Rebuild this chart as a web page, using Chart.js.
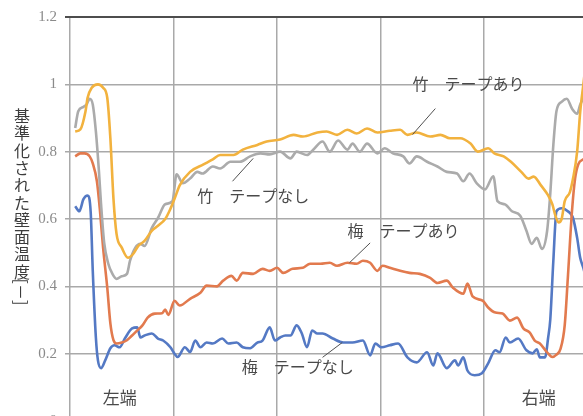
<!DOCTYPE html>
<html>
<head>
<meta charset="utf-8">
<script src="https://cdn.jsdelivr.net/npm/chart.js@4/dist/chart.umd.min.js"></script>
<style>
  html, body { margin: 0; padding: 0; background: #ffffff; overflow: hidden; }
  #wrap { position: absolute; left: 0; top: 0; width: 600px; height: 440px; }
</style>
</head>
<body>
<div id="wrap"><canvas id="c" width="600" height="440"></canvas></div>
<script>
// Position along the wall (0 = left end, 500 = right end) and normalised wall temperature.
const xTicks = [0, 100, 200, 300, 400, 500];
const yTicks = [0, 0.2, 0.4, 0.6, 0.8, 1.0, 1.2];

// 竹 テープあり
const takeAriX = [5,10,15,17,21,27,32,36,39,42,45,50,56,61,66,72,79,85,92,97,101,106,116,129,138,145,158,167,181,190,203,216,225,239,248,258,268,277,287,297,309,319,326,335,348,358,367,377,387,394,404,410,419,426,436,443,448,455,462,466,469,472,475,478,483,486,490,493,496,499];
const takeAriY = [0.86,0.866,0.92,0.96,0.99,1.0,0.99,0.96,0.84,0.66,0.555,0.515,0.485,0.496,0.52,0.535,0.565,0.58,0.60,0.63,0.66,0.70,0.74,0.762,0.777,0.79,0.79,0.806,0.82,0.83,0.836,0.85,0.845,0.857,0.86,0.85,0.865,0.854,0.869,0.857,0.862,0.865,0.85,0.857,0.845,0.85,0.84,0.84,0.824,0.80,0.81,0.795,0.786,0.77,0.74,0.72,0.726,0.70,0.67,0.644,0.61,0.59,0.60,0.653,0.68,0.72,0.80,0.92,1.0,1.08];

// 竹 テープなし
const takeNashiX = [5,8,13,16,19,22,25,28,30,33,37,41,45,50,55,58,63,68,72,79,85,92,99,103,109,116,123,128,138,145,155,164,174,184,193,203,213,219,229,235,244,251,259,268,273,280,287,297,304,312,322,328,335,345,355,364,374,380,386,393,401,409,413,420,427,435,441,446,451,456,461,464,467,470,475,480,485,490,493,498];
const takeNashiY = [0.87,0.92,0.933,0.94,0.957,0.94,0.86,0.74,0.644,0.53,0.467,0.437,0.422,0.43,0.437,0.476,0.514,0.526,0.52,0.573,0.603,0.644,0.653,0.733,0.706,0.72,0.74,0.735,0.756,0.75,0.77,0.77,0.786,0.795,0.792,0.80,0.78,0.80,0.79,0.806,0.83,0.80,0.833,0.806,0.824,0.80,0.824,0.795,0.81,0.795,0.786,0.765,0.786,0.77,0.756,0.74,0.735,0.712,0.735,0.706,0.688,0.727,0.653,0.644,0.623,0.61,0.565,0.526,0.544,0.511,0.565,0.674,0.82,0.92,0.948,0.957,0.928,0.913,0.94,0.97];

// 梅 テープあり
const umeAriX = [5,10,14,19,22,26,29,32,36,39,42,45,50,55,60,65,70,75,82,89,92,95,101,106,116,126,132,142,148,156,161,167,177,186,193,200,206,215,225,232,242,251,258,268,277,283,290,297,302,309,319,328,338,348,355,364,370,380,384,389,399,404,411,418,425,432,438,444,449,454,461,466,470,474,478,481,485,488,491,496,498];
const umeAriY = [0.786,0.795,0.795,0.786,0.765,0.712,0.623,0.514,0.396,0.29,0.24,0.23,0.233,0.24,0.254,0.269,0.284,0.307,0.319,0.32,0.331,0.315,0.357,0.343,0.363,0.381,0.402,0.40,0.417,0.431,0.417,0.44,0.437,0.452,0.446,0.455,0.44,0.452,0.455,0.467,0.467,0.47,0.461,0.47,0.467,0.476,0.47,0.446,0.461,0.455,0.446,0.44,0.437,0.425,0.41,0.417,0.396,0.378,0.408,0.37,0.357,0.337,0.322,0.319,0.298,0.307,0.275,0.263,0.239,0.23,0.204,0.19,0.197,0.215,0.285,0.425,0.623,0.72,0.762,0.777,0.78];

// 梅 テープなし
const umeNashiX = [5,9,13,17,20,22,25,27,30,34,39,43,48,53,60,65,68,72,79,85,90,97,101,104,111,116,121,126,132,138,147,153,161,167,174,181,186,193,198,203,208,213,219,224,229,234,239,244,254,264,273,283,290,295,301,309,317,326,335,345,351,355,364,372,375,380,384,391,398,404,411,415,421,425,433,441,447,451,454,459,462,464,467,470,475,481,486,490,493,496,498];
const umeNashiY = [0.638,0.623,0.659,0.67,0.62,0.446,0.248,0.18,0.157,0.18,0.216,0.225,0.219,0.245,0.275,0.278,0.248,0.254,0.26,0.245,0.239,0.219,0.20,0.19,0.219,0.205,0.239,0.219,0.233,0.23,0.245,0.23,0.233,0.219,0.216,0.233,0.239,0.278,0.239,0.248,0.254,0.254,0.284,0.26,0.219,0.269,0.26,0.26,0.245,0.233,0.233,0.239,0.195,0.23,0.219,0.225,0.23,0.189,0.174,0.204,0.165,0.201,0.157,0.18,0.165,0.189,0.15,0.136,0.142,0.171,0.21,0.204,0.248,0.233,0.245,0.21,0.201,0.213,0.189,0.189,0.248,0.30,0.476,0.623,0.632,0.623,0.603,0.544,0.484,0.455,0.43];

// Series labels with leader lines, and end markers (text, anchor, leader from/to)
const seriesNotes = [
  { text: '竹　テープあり', x: 331, y: 1.0, from: [353, 0.928], to: [331, 0.851] },
  { text: '竹　テープなし', x: 123, y: 0.668, from: [157, 0.712], to: [177, 0.78] },
  { text: '梅　テープあり', x: 268, y: 0.564, from: [290, 0.529], to: [270, 0.47] },
  { text: '梅　テープなし', x: 166, y: 0.16, from: [244, 0.189], to: [263, 0.233] }
];
const endNotes = [
  { text: '左端', x: 48, y: 0.071 },
  { text: '右端', x: 453, y: 0.071 }
];
const yTitleChars = ['基','準','化','さ','れ','た','壁','面','温','度'];
const yTitleUnit = '[－]';

const zip = (xs, ys) => xs.map((x, i) => ({ x: x, y: ys[i] }));

const line = (label, xs, ys, color) => ({
  label: label,
  data: zip(xs, ys),
  borderColor: color,
  borderWidth: 2.6,
  pointRadius: 0,
  fill: false,
  cubicInterpolationMode: 'monotone'
});

const notesPlugin = {
  id: 'notes',
  afterDatasetsDraw(chart) {
    const ctx = chart.ctx;
    const sx = chart.scales.x, sy = chart.scales.y;
    ctx.save();
    ctx.strokeStyle = '#505050';
    ctx.lineWidth = 1;
    ctx.fillStyle = '#4a4a4a';
    ctx.font = '16px "Noto Sans CJK JP"';
    ctx.textBaseline = 'middle';
    ctx.textAlign = 'left';
    seriesNotes.forEach(n => {
      ctx.beginPath();
      ctx.moveTo(sx.getPixelForValue(n.from[0]), sy.getPixelForValue(n.from[1]));
      ctx.lineTo(sx.getPixelForValue(n.to[0]), sy.getPixelForValue(n.to[1]));
      ctx.stroke();
      ctx.fillText(n.text, sx.getPixelForValue(n.x), sy.getPixelForValue(n.y));
    });
    ctx.font = '17px "Noto Sans CJK JP"';
    ctx.textAlign = 'center';
    endNotes.forEach(n => {
      ctx.fillText(n.text, sx.getPixelForValue(n.x), sy.getPixelForValue(n.y));
    });
    ctx.restore();
  },
  afterDraw(chart) {
    // vertical axis title, characters stacked top to bottom
    const ctx = chart.ctx;
    const cx = chart.chartArea.left - 48;
    ctx.save();
    ctx.fillStyle = '#3c3c3c';
    ctx.font = '16px "Noto Sans CJK JP"';
    ctx.textAlign = 'center';
    ctx.textBaseline = 'middle';
    yTitleChars.forEach((ch, i) => ctx.fillText(ch, cx, 116 + i * 17.3));
    ctx.translate(cx - 1, 292);
    ctx.rotate(Math.PI / 2);
    ctx.fillText(yTitleUnit, 0, 0);
    ctx.restore();
  }
};

new Chart(document.getElementById('c'), {
  type: 'line',
  data: {
    datasets: [
      line('竹 テープあり', takeAriX, takeAriY, '#F2B23E'),
      line('竹 テープなし', takeNashiX, takeNashiY, '#ABABAB'),
      line('梅 テープあり', umeAriX, umeAriY, '#E27A4E'),
      line('梅 テープなし', umeNashiX, umeNashiY, '#5479C4')
    ]
  },
  options: {
    responsive: false,
    animation: false,
    devicePixelRatio: 1,
    layout: { padding: { top: 15, right: 12.5, bottom: 0, left: 0 } },
    plugins: { legend: { display: false }, tooltip: { enabled: false } },
    scales: {
      x: {
        type: 'linear',
        min: 0,
        max: 500,
        afterBuildTicks: s => { s.ticks = xTicks.map(v => ({ value: v })); },
        afterFit: s => { s.height = 19; },
        ticks: { display: false },
        border: { display: false },
        grid: { color: '#a9a9a9', lineWidth: 1.5, drawTicks: false }
      },
      y: {
        min: 0,
        max: 1.2,
        afterBuildTicks: s => { s.ticks = yTicks.map(v => ({ value: v })); },
        afterFit: s => { s.width = 70; },
        border: { display: false },
        grid: {
          color: c => (c.tick && c.tick.value >= 1.19 ? '#4d4d4d' : '#a9a9a9'),
          lineWidth: c => (c.tick && c.tick.value >= 1.19 ? 2 : 1.5),
          tickLength: 5
        },
        ticks: {
          padding: 8,
          color: '#8a8a8a',
          font: { family: '"Liberation Serif"', size: 15 },
          callback: v => String(Number(v.toFixed(1)))
        }
      }
    }
  },
  plugins: [notesPlugin]
});
</script>
</body>
</html>
